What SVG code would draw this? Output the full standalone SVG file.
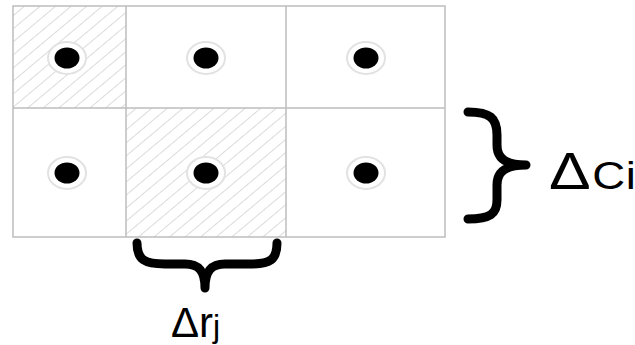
<svg xmlns="http://www.w3.org/2000/svg" width="635" height="345" viewBox="0 0 635 345">
<style>
.grid{fill:none;stroke:#bdbdbd;stroke-width:1.5}
.halo{fill:#fff;stroke:#e2e2e2;stroke-width:2}
.dot{fill:#000}
.brace{fill:none;stroke:#000;stroke-width:9;stroke-linecap:round;stroke-linejoin:round}
.lbl{font-family:"Liberation Sans",Arial,sans-serif;fill:#000}
</style>
<defs>
<pattern id="hatch" patternUnits="userSpaceOnUse" width="10" height="10" patternTransform="rotate(50)">
<line x1="0" y1="0" x2="0" y2="10" stroke="#c2c2c2" stroke-width="1.2"/>
</pattern>
</defs>
<rect width="635" height="345" fill="#fff"/>
<g id="cells">
<rect x="13" y="6" width="113" height="102" fill="url(#hatch)"/>
<rect x="126" y="108" width="160" height="129" fill="url(#hatch)"/>
<rect class="grid" x="13" y="6" width="432" height="231"/>
<line class="grid" x1="126" y1="6" x2="126" y2="237"/>
<line class="grid" x1="286" y1="6" x2="286" y2="237"/>
<line class="grid" x1="13" y1="108" x2="445" y2="108"/>
</g>
<g id="dot-1-1"><ellipse class="halo" cx="67" cy="58" rx="19" ry="16"/><ellipse class="dot" cx="67" cy="58" rx="12.5" ry="10.5"/></g>
<g id="dot-1-2"><ellipse class="halo" cx="206" cy="58" rx="19" ry="16"/><ellipse class="dot" cx="206" cy="58" rx="12.5" ry="10.5"/></g>
<g id="dot-1-3"><ellipse class="halo" cx="366" cy="58" rx="19" ry="16"/><ellipse class="dot" cx="366" cy="58" rx="12.5" ry="10.5"/></g>
<g id="dot-2-1"><ellipse class="halo" cx="67" cy="173" rx="19" ry="16"/><ellipse class="dot" cx="67" cy="173" rx="12.5" ry="10.5"/></g>
<g id="dot-2-2"><ellipse class="halo" cx="206" cy="173" rx="19" ry="16"/><ellipse class="dot" cx="206" cy="173" rx="12.5" ry="10.5"/></g>
<g id="dot-2-3"><ellipse class="halo" cx="366" cy="173" rx="19" ry="16"/><ellipse class="dot" cx="366" cy="173" rx="12.5" ry="10.5"/></g>
<g id="brace-c">
<path class="brace" d="M468,112 C490,112 497,118 497,135 L497,145 C497,158 505,165 526,165 C505,165 497,172 497,185 L497,200 C497,214 490,219 468,219"/>
<text class="lbl" transform="translate(549,189) scale(1.2,1)" x="0" y="0" font-size="52">Δ<tspan font-size="38" x="36">C</tspan><tspan font-size="38" x="64">i</tspan></text>
</g>
<g id="brace-r">
<path class="brace" d="M137,243 C137,260 145,264 165,264 L185,264 C198,264 205,270 205,288 C205,270 212,264 225,264 L250,264 C270,264 277,260 277,243"/>
<text class="lbl" x="171" y="337" font-size="42">Δr<tspan font-size="32">j</tspan></text>
</g>
</svg>
